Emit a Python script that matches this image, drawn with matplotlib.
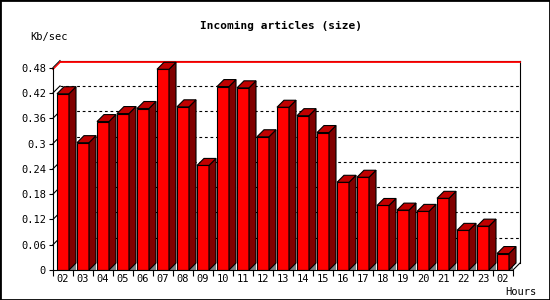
import matplotlib.pyplot as plt
from matplotlib.patches import Polygon, Rectangle

plt.rcParams['font.family'] = ['DejaVu Sans Mono']

# data
hours = ['02', '03', '04', '05', '06', '07', '08', '09', '10', '11', '12', '13',
         '14', '15', '16', '17', '18', '19', '20', '21', '22', '23', '02']
size_kb = [0.418, 0.302, 0.352, 0.371, 0.383, 0.476, 0.387, 0.248, 0.435, 0.432,
           0.316, 0.386, 0.366, 0.326, 0.208, 0.220, 0.153, 0.142, 0.139, 0.170,
           0.094, 0.104, 0.039]
yticks = [0, 0.06, 0.12, 0.18, 0.24, 0.3, 0.36, 0.42, 0.48]
ytick_labels = ['0', '0.06', '0.12', '0.18', '0.24', '0.3', '0.36', '0.42', '0.48']

fig = plt.figure(figsize=(5.5, 3), dpi=100)
ax = fig.add_axes([53 / 550, 30 / 300, 460 / 550, 202.4 / 300])
n = len(hours)
ymax = yticks[-1]
ax.set_xlim(-0.5, n - 0.5)
ax.set_ylim(0, ymax)

# 3d depth of 7 pixels, converted to data units
dx = 7 / (ax.bbox.width / n)
dy = 7 / (ax.bbox.height / ymax)

lw = 0.8
x0, x1 = -0.5, n - 0.5

# back wall grid
for t in yticks[1:-1]:
    ax.plot([x0 + dx, x1 + dx], [t + dy, t + dy], color='black', lw=lw,
            ls=(0, (2.5, 2.5)), zorder=1, clip_on=False)
    ax.plot([x0, x0 + dx], [t, t + dy], color='black', lw=lw, zorder=1, clip_on=False)

# back wall frame
ax.plot([x0 + dx, x1 + dx], [ymax + dy, ymax + dy], color='black', lw=lw, clip_on=False, zorder=1)
ax.plot([x0, x0 + dx], [ymax, ymax + dy], color='black', lw=lw, clip_on=False, zorder=1)
ax.plot([x1 + dx, x1 + dx], [dy, ymax + dy], color='black', lw=lw, clip_on=False, zorder=1)
ax.plot([x1, x1 + dx], [0, dy], color='black', lw=lw, clip_on=False, zorder=1)

# max line
top_val = max(size_kb)
ax.plot([x0 + dx, x1 + dx], [top_val + dy, top_val + dy], color='red', lw=1.3, clip_on=False, zorder=1)
ax.plot([x0, x0 + dx], [top_val, top_val + dy], color='red', lw=1, clip_on=False, zorder=1)

# bars
w = 0.6
ax.bar(range(n), size_kb, width=w, color='#ff0000', edgecolor='black', linewidth=lw, zorder=3)
for i, v in enumerate(size_kb):
    l, r = i - w / 2, i + w / 2
    ax.add_patch(Polygon([(r, 0), (r + dx, 0), (r + dx, dy)], fc='#808080', ec='none', zorder=2))
    ax.add_patch(Polygon([(r, 0), (r + dx, dy), (r + dx, v + dy), (r, v)],
                         fc='#800000', ec='black', lw=lw, zorder=3, clip_on=False))
    ax.add_patch(Polygon([(l, v), (l + dx, v + dy), (r + dx, v + dy), (r, v)],
                         fc='#c00000', ec='black', lw=lw, zorder=3, clip_on=False))

# axes
for s in ['top', 'right']:
    ax.spines[s].set_visible(False)
for s in ['left', 'bottom']:
    ax.spines[s].set_linewidth(lw)
    ax.spines[s].set_zorder(4)

ax.set_yticks(yticks, ytick_labels)
ax.tick_params(axis='y', length=3, width=lw, pad=2, labelsize=7.5)
ax.set_xticks([i - 0.5 for i in range(n + 1)], [''] * (n + 1))
ax.set_xticks(range(n), hours, minor=True)
ax.tick_params(axis='x', which='major', length=4, width=lw)
ax.tick_params(axis='x', which='minor', length=0, pad=3, labelsize=7.5)

fig.text(281 / 550, 1 - 26 / 300, 'Incoming articles (size)', ha='center', va='center',
         fontweight='bold', fontsize=8)
fig.text(30 / 550, 1 - 37 / 300, 'Kb/sec', ha='left', va='center', fontsize=7.5)
fig.text(505 / 550, 1 - 292 / 300, 'Hours', ha='left', va='center', fontsize=7.5)

fig.add_artist(Rectangle((0, 0), 1, 1, transform=fig.transFigure, fill=False,
                         ec='black', lw=2))

fig.savefig('out.png', dpi=100)
